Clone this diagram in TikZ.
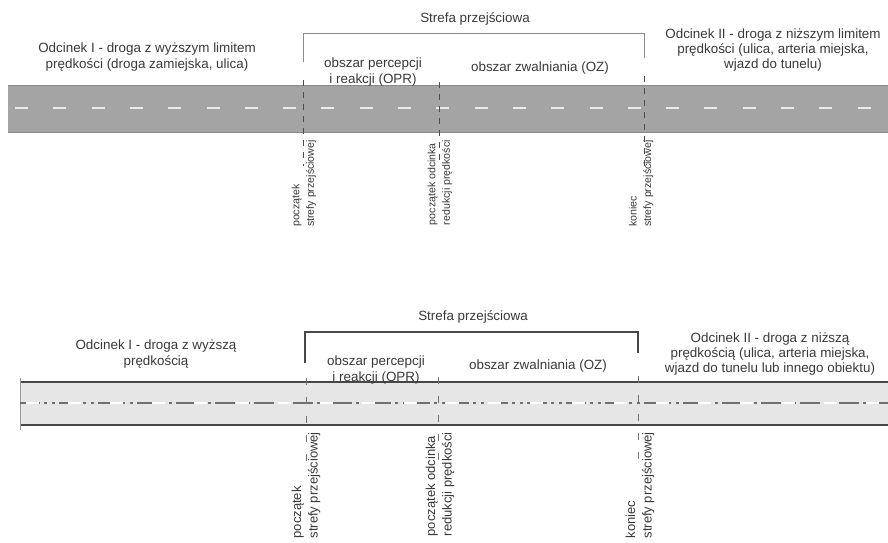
\documentclass[tikz,border=0pt]{standalone}
\usepackage{fontspec}
\setmainfont{Liberation Sans}
\definecolor{txtgray}{HTML}{3A3A3A}
\definecolor{roadA}{HTML}{A4A4A4}
\definecolor{roadAedge}{HTML}{8A8A8A}
\definecolor{roadB}{HTML}{E6E6E6}
\definecolor{roadBedge}{HTML}{474747}
\definecolor{laneB}{HTML}{707070}
\begin{document}
\begin{tikzpicture}[x=1pt,y=-1pt,
  lbl/.style={align=center, font=\fontsize{13.4}{15.2}\selectfont, text=txtgray, inner sep=0pt},
  vlblA/.style={align=left, rotate=90, anchor=east, font=\fontsize{10.6}{14.5}\selectfont, text=txtgray, inner sep=0pt},
  vlblB/.style={align=left, rotate=90, anchor=east, font=\fontsize{13}{16.5}\selectfont, text=txtgray, inner sep=0pt},
  bracketA/.style={draw=roadAedge, line width=0.9},
  bracketB/.style={draw=roadBedge, line width=1.3},
  markerA/.style={draw=black!70, line width=0.8, dash pattern=on 6 off 6},
  markerB/.style={draw=black!55, line width=0.8, dash pattern=on 7 off 12},
]
\useasboundingbox[fill=white] (0,0) rectangle (888,542);

% ---------------- upper variant ----------------
% carriageway
\fill[roadA] (8,85) rectangle (888,132);
\draw[roadAedge, line width=1] (8,85) -- (888,85);
\draw[roadAedge, line width=1] (8,132) -- (888,132);
\draw[white!92!black, line width=2, dash pattern=on 13 off 25.3] (15,108) -- (888,108);

% transition-zone bracket
\coordinate (a1) at (303,62);
\coordinate (a1t) at (303,33);
\coordinate (a3t) at (644,33);
\coordinate (a3) at (644,58);
\draw[bracketA] (a1) -- (a1t) -- (a3t) -- (a3);

% section boundaries
\coordinate (pa1) at (303,80);  \coordinate (qa1) at (303,166);
\coordinate (pa2) at (439,82);  \coordinate (qa2) at (439,166);
\coordinate (pa3) at (644,76);  \coordinate (qa3) at (644,166);
\draw[markerA] (pa1) -- (qa1);
\draw[markerA] (pa2) -- (qa2);
\draw[markerA] (pa3) -- (qa3);

% labels
\node[lbl] (sA) at (475,19) {Strefa przejściowa};
\node[lbl] (oA1) at (147,57) {Odcinek I - droga z wyższym limitem\\prędkości (droga zamiejska, ulica)};
\node[lbl] (oprA) at (373,72) {obszar percepcji\\i reakcji (OPR)};
\node[lbl] (ozA) at (540,68) {obszar zwalniania (OZ)};
\node[lbl] (oA2) at (773,50) {Odcinek II - droga z niższym limitem\\prędkości (ulica, arteria miejska,\\wjazd do tunelu)};

\node[vlblA] (vA1) at (304,140) {początek\\strefy przejściowej};
\node[vlblA] (vA2) at (440,140) {początek odcinka\\redukcji prędkości};
\node[vlblA] (vA3) at (641,140) {koniec\\strefy przejściowej};

% ---------------- lower variant ----------------
% carriageway
\fill[roadB] (20,382) rectangle (888,425);
\draw[roadBedge, line width=1.5] (20,382) -- (888,382);
\draw[roadBedge, line width=1.5] (20,425) -- (888,425);
\coordinate (eb1) at (20,378);
\coordinate (eb2) at (20,430);
\draw[black!40, line width=0.8] (eb1) -- (eb2);
% centre line: grey dash-dot marking broken by white dashes
\draw[laneB, line width=1.5, dash pattern=on 20 off 4 on 3 off 5 on 3 off 4] (20,403) -- (888,403);
\draw[white, line width=1.8, dash pattern=on 13 off 29] (26,403) -- (888,403);

% transition-zone bracket
\coordinate (b1) at (305,363);
\coordinate (b1t) at (305,332);
\coordinate (b3t) at (638,332);
\coordinate (b3) at (638,353);
\draw[bracketB] (b1) -- (b1t) -- (b3t) -- (b3);

% section boundaries
\coordinate (pb1) at (306,378);  \coordinate (qb1) at (306,462);
\coordinate (pb2) at (438,377);  \coordinate (qb2) at (438,462);
\coordinate (pb3) at (638,376);  \coordinate (qb3) at (638,462);
\draw[markerB] (pb1) -- (qb1);
\draw[markerB] (pb2) -- (qb2);
\draw[markerB] (pb3) -- (qb3);

% labels
\node[lbl] (sB) at (473,317) {Strefa przejściowa};
\node[lbl] (oB1) at (156,354) {Odcinek I - droga z wyższą\\prędkością};
\node[lbl] (oprB) at (376,370) {obszar percepcji\\i reakcji (OPR)};
\node[lbl] (ozB) at (538,366) {obszar zwalniania (OZ)};
\node[lbl] (oB2) at (770,354) {Odcinek II - droga z niższą\\prędkością (ulica, arteria miejska,\\wjazd do tunelu lub innego obiektu)};

\node[vlblB] (vB1) at (306,432) {początek\\strefy przejściowej};
\node[vlblB] (vB2) at (440,432) {początek odcinka\\redukcji prędkości};
\node[vlblB] (vB3) at (640,432) {koniec\\strefy przejściowej};
\end{tikzpicture}
\end{document}
